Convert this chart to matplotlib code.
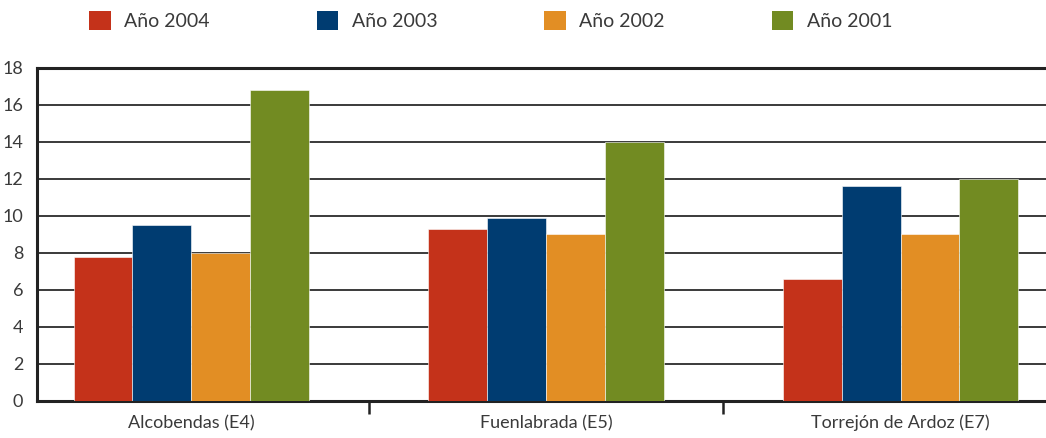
import numpy as np
import matplotlib
matplotlib.use("Agg")
import matplotlib.pyplot as plt
from matplotlib.patches import Patch

plt.rcParams["font.family"] = ["Lato", "DejaVu Sans"]

categories = ["Alcobendas (E4)", "Fuenlabrada (E5)", "Torrejón de Ardoz (E7)"]
series_names = ["Año 2004", "Año 2003", "Año 2002", "Año 2001"]
values_2004 = [7.8, 9.3, 6.6]
values_2003 = [9.5, 9.9, 11.6]
values_2002 = [8.0, 9.0, 9.0]
values_2001 = [16.8, 14.0, 12.0]
y_ticks = [0, 2, 4, 6, 8, 10, 12, 14, 16, 18]

colors = ["#C4321A", "#003C71", "#E28E24", "#728B22"]
series = [values_2004, values_2003, values_2002, values_2001]
text_color = "#3a3a3a"

fig = plt.figure(figsize=(10.46, 4.38), dpi=100)
ax = fig.add_axes([0.0354, 0.0845, 0.9646, 0.7605])

x = np.arange(len(categories))
w = 0.166
for i, (vals, col) in enumerate(zip(series, colors)):
    ax.bar(x + (i - 1.5) * w, vals, width=w, color=col, zorder=3,
           edgecolor="white", linewidth=0.4)

ax.set_xlim(-0.435, 2.41)
ax.set_ylim(0, 18)
ax.set_yticks(y_ticks)
ax.set_yticklabels([str(t) for t in y_ticks], fontsize=13, color=text_color)
ax.yaxis.grid(True, color="#2b2b2b", linewidth=1.3, zorder=1)
ax.tick_params(axis="y", length=0, pad=10)

ax.set_xticks(x)
ax.set_xticklabels(categories, fontsize=13, color=text_color)
ax.tick_params(axis="x", which="major", length=0, pad=10)
ax.set_xticks([0.5, 1.5], minor=True)
ax.tick_params(axis="x", which="minor", length=9, width=1.8, direction="out", color="#222222")

for side in ["left", "bottom", "top"]:
    ax.spines[side].set_color("#222222")
    ax.spines[side].set_linewidth(2.2)
ax.spines["right"].set_visible(False)

handles = [Patch(facecolor=c, edgecolor="none") for c in colors]
fig.legend(handles, series_names, loc="upper left", bbox_to_anchor=(0.0685, 1.015),
           ncol=4, frameon=False, fontsize=14, handlelength=1.1, handleheight=1.1,
           handletextpad=0.7, columnspacing=5.5, labelcolor=text_color)

fig.savefig("out.png", dpi=100)
